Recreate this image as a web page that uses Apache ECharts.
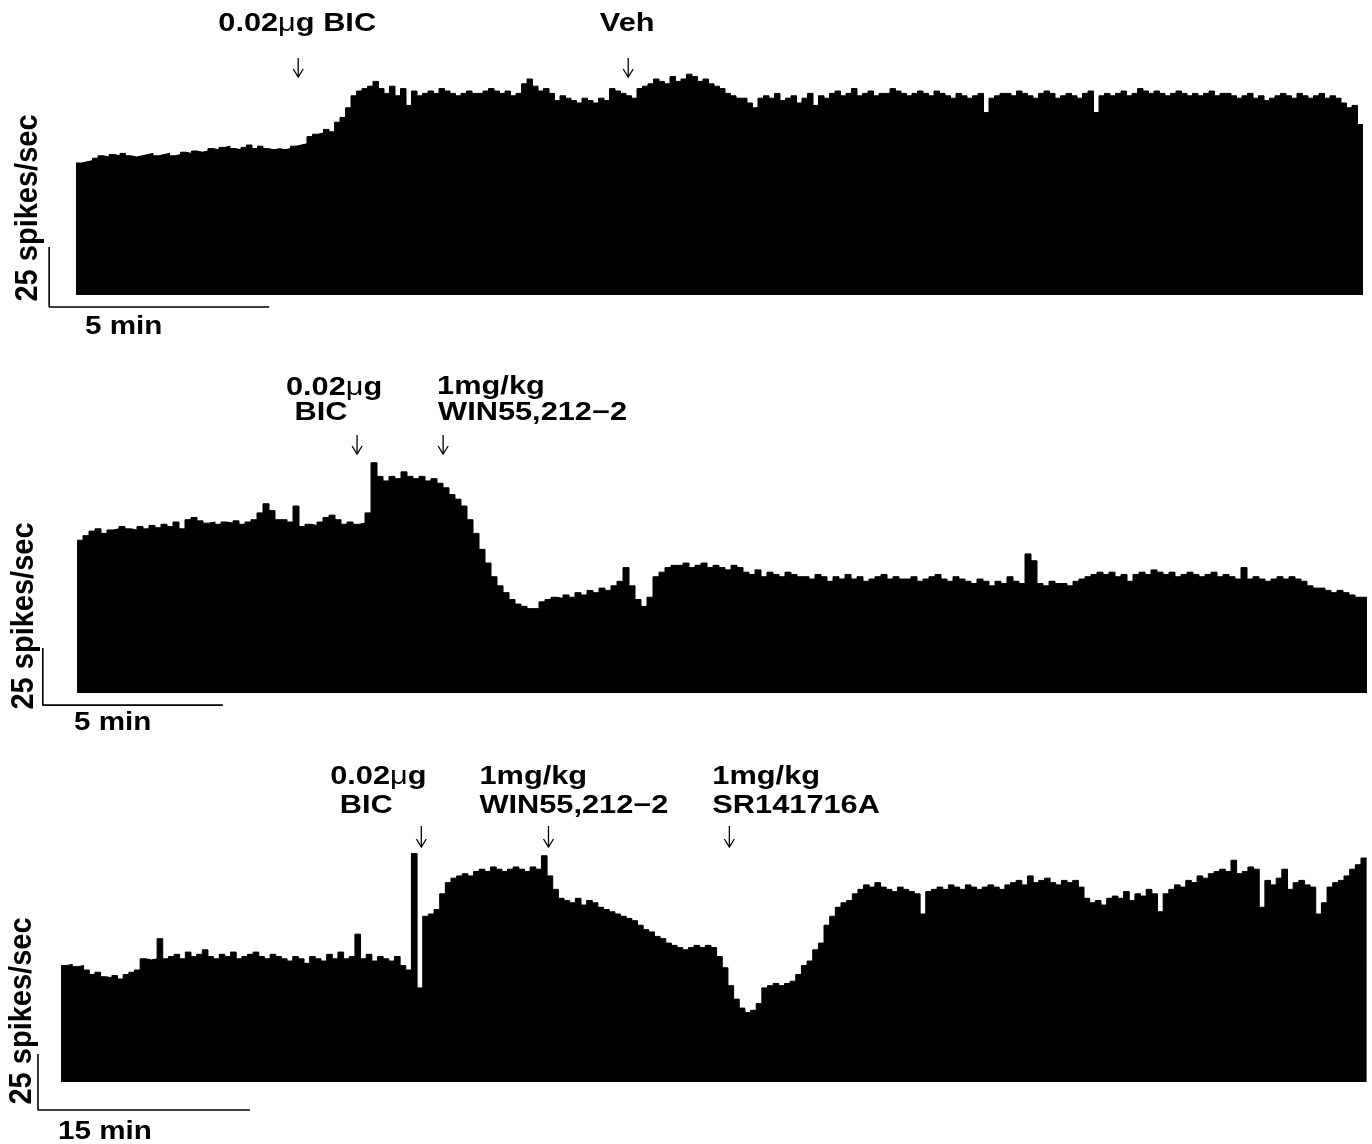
<!DOCTYPE html>
<html><head><meta charset="utf-8">
<script src="https://cdn.jsdelivr.net/npm/echarts@6.0.0/dist/echarts.min.js"></script>
<style>html,body{margin:0;padding:0;background:#fff}#c{width:1372px;height:1144px}</style>
</head><body><div id="c"></div>
<script>
// ---- data (spikes/sec per bin) ----
const binMinutes = [1/8, 1/6, 0.4];
const rate1 = [55,55.5,56, 57,58,57.5,58.5,58,59,58,57.5,58,58.5,59,58,58.5,59,58,58.5,59.5,59,60,59.5, 60,61,60.5,61.5,62,61,60.5,61.5,62.5,61,62,61,60.5,61,60.5,61,62,62.5, 63,66,67,67.5,69,68,72,74,78,83,85,86,87,89,86,84,87,83,86,79,85, 83,84,85,84,86,85,84,83,84,85,84,84,85,86,85,84,85,83,84,88,90, 87,85,86,84,81,83,82, 81,80,82,81,80,82,81,86, 85,84,83,82, 86,87,88,90,89,88,91,89,90,92,91, 89,90,88,87,86,84, 83,82,82,80,78, 82,83,82,84,81,82,83,80,82,84,79,83,82, 84,85,83,84,86,83,84,85,83,84,84,86,85,84,83,84,85,84,83,85,84,83,82,84,83,82,83,84,76,82,83,84, 84,83,85,84,83,82,84,85,84,82,83,84,83,82,84,85,76,83,84,83, 84,85,83,84,86,85,84,85,84,83,84,85,84,83,84,83,84,85,83,84,84,83, 82,83,84,82,83,81,82,83,84,83,82,84,83,82,83,84,82,83,82, 80,78,79,71];
const rate2 = [67,69, 71,72,70,71.5,72,73,72,71.5,73,72,73.5,72.5,74,73,75,72, 76,77,75.5,74.5,75,74,75,74.5,75.5,74,75,76, 79,83,80,76, 76,75,82, 73,74,73.5,75,77,78,76,74,75,74,74.5,79, 101,95,93,95,94,97,95, 94,95,93,94,92,90, 87,85,82, 76,70,63, 57,51,47, 44,41,39, 38,37,37,40, 41,42,41.5,43,42,44,43,45,44,46,45,47,49, 55,47,41, 38,42, 51,53,55,56, 56,57,55,56,57,55,56,55,54,56,55, 53,52,54,51,53,52,51,53,52,51, 51,50,52,51,49,51,50,52,50,51,49,50,51,52,50,51,50, 50,51,49,50,51,52,50,49,51,50,49,48,50,49,47,49,48,51,49,48, 61,58, 48,47,49,48,48,47,49,50,51, 52,53,52,53,51,52,49,52,53,52, 54,53,52,53,51,52,53,52,51,52,53,51,52, 51,50,55,50,51,50,49,50,51,50,51,50,49, 47,46,46,45,44, 45,44,43,42,42];
const rate3 = [52,52.5,51.5,52, 50,48,49, 47,46.5,47.5,46,48, 49,50, 55,54.5,55,64, 55,56,57,55,58,56,57,59,56,55,57,56,58,55,56,57,58,56,55,57,56, 55,54,56,55,53,56,55,54,57,55, 58,55,56,66, 55,57,54,56,55,54,56,52, 50, 102, 42, 74,75,77, 84,89, 91,92,93,92, 94,95,94,96,95,94,95,96,95,94,96,95, 101, 92,86, 82,81,80,82,79,81,80,78, 77,76,75,74,73,72,70, 68,67,65,64,62,61,60, 59,60,61,60,61,60, 56,51, 43,37, 33,31,32, 35, 42,43,44,43,44,45, 48,52,54, 59, 62, 70, 74,78,80, 81,84,86,88,87,89, 87,86,85,87,86,85,84, 75, 85,86,87,86,88,87,86,88,87,86,87,88,87,86, 88,89,90,88,92,89,90,91,89,88,90,89,90,87, 82,80,81,79,82, 83,82,85,81,84,83,86,84,76, 84,86,88,87,90,89,92,91, 93,94,95,94,99,93,94,96,95, 78,90, 88,91,95,86,89,90, 88,87, 75,80, 87,89,90, 92,95,97, 100];
// injection times (min from start of trace)
const events1 = [5.05, 12.55];
const events2 = [7.78, 10.17];
const events3 = [25.5, 34.5, 47.3];
const eventText1 = [["0.02{m|μ}g BIC"], ["Veh"]];
const eventText2 = [["0.02{m|μ}g", "BIC"], ["1mg/kg", "WIN55,212\u22122"]];
const eventText3 = [["0.02{m|μ}g", "BIC"], ["1mg/kg", "WIN55,212\u22122"], ["1mg/kg", "SR141716A"]];
// calibration bars
const scaleMinutes = [5, 5, 15];
const scaleSpikes = [25, 25, 25];
const scaleLabels = ["5 min", "5 min", "15 min"];
const yLabel = "25 spikes/sec";

// ---- layout (pixels / axis ranges) ----
const layout = [
  {left:32, width:1337.6, xmin:-1, xmax:29.4, top:7, height:312, ymin:-10, ymax:120,
   barT:-0.61, barV:-5,
   textLines:[[{dx:-1, y:24, align:'center'}], [{dx:-1, y:24, align:'center'}]],
   arrowY:[58,77], minLbl:{x:85, y:327}, yLbl:{x:28, y:208}},
  {left:23, width:1346.4, xmin:-1.5, xmax:35.9, top:373.8, height:342, ymin:-10, ymax:140,
   barT:-0.95, barV:-5.3,
   textLines:[[{dx:-23, y:388, align:'center'},{dx:-36, y:413, align:'center'}],
              [{dx:-6, y:387, align:'left'},{dx:-5, y:413, align:'left'}]],
   arrowY:[435,454], minLbl:{x:74, y:723}, yLbl:{x:24, y:616}},
  {left:32.74, width:1335.3, xmin:-2, xmax:92.5, top:746, height:380.8, ymin:-20, ymax:150,
   barT:-1.63, barV:-12.5,
   textLines:[[{dx:-43, y:777, align:'center'},{dx:-55, y:806, align:'center'}],
              [{dx:-69, y:777, align:'left'},{dx:-69, y:806, align:'left'}],
              [{dx:-17, y:777, align:'left'},{dx:-17, y:806, align:'left'}]],
   arrowY:[826,847], minLbl:{x:58, y:1132}, yLbl:{x:22, y:1011}}
];
const rates = [rate1, rate2, rate3];
const events = [events1, events2, events3];
const eventTexts = [eventText1, eventText2, eventText3];

const FONT = '"Liberation Sans", Arial, Helvetica, sans-serif';
const chart = echarts.init(document.getElementById('c'), null, {renderer:'canvas'});

const grid = [], xAxis = [], yAxis = [], series = [];
layout.forEach((L, k) => {
  grid.push({left:L.left, top:L.top, width:L.width, height:L.height, outerBoundsMode:'none', containLabel:false});
  xAxis.push({type:'value', gridIndex:k, min:L.xmin, max:L.xmax, show:false});
  yAxis.push({type:'value', gridIndex:k, min:L.ymin, max:L.ymax, show:false});
  const r = rates[k], dt = binMinutes[k];
  const pts = r.map((v, i) => [i * dt, v]);
  pts.push([r.length * dt, r[r.length - 1]]);
  series.push({type:'line', xAxisIndex:k, yAxisIndex:k, data:pts, step:'end', symbol:'none',
    lineStyle:{color:'#000', width:1}, areaStyle:{color:'#000', opacity:1, origin:'auto'}, silent:true, z:2});
  series.push({type:'line', xAxisIndex:k, yAxisIndex:k, symbol:'none', silent:true, clip:false,
    data:[[L.barT, L.barV + scaleSpikes[k]], [L.barT, L.barV], [L.barT + scaleMinutes[k], L.barV]],
    lineStyle:{color:'#000', width:1.6}, z:3});
});

chart.setOption({animation:false, backgroundColor:'#fff', grid, xAxis, yAxis, series});

const graphics = [];
layout.forEach((L, k) => {
  events[k].forEach((t, j) => {
    const px = chart.convertToPixel({gridIndex:k}, [t, 0])[0];
    const y0 = L.arrowY[0], y1 = L.arrowY[1];
    graphics.push({type:'line', shape:{x1:px, y1:y0, x2:px, y2:y1}, style:{stroke:'#000', lineWidth:1.3}, silent:true});
    graphics.push({type:'polyline', shape:{points:[[px-5, y1-8],[px, y1],[px+5, y1-8]]}, style:{stroke:'#000', lineWidth:1.3, fill:null}, silent:true});
    eventTexts[k][j].forEach((txt, m) => {
      const tl = L.textLines[j][m];
      graphics.push({type:'text', x:px + tl.dx, y:tl.y, scaleX:1.23, silent:true,
        style:{text:txt, fill:'#000', font:'bold 25px ' + FONT, textAlign:tl.align, textVerticalAlign:'middle',
          rich:{m:{fontWeight:'normal', fontSize:25, fontFamily:FONT, fill:'#000'}}}});
    });
  });
  graphics.push({type:'text', x:L.minLbl.x, y:L.minLbl.y, scaleX:1.14, silent:true,
    style:{text:scaleLabels[k], fill:'#000', font:'bold 26px ' + FONT, textAlign:'left', textVerticalAlign:'middle'}});
  graphics.push({type:'text', x:L.yLbl.x, y:L.yLbl.y, rotation:Math.PI/2, scaleY:1.1, silent:true,
    style:{text:yLabel, fill:'#000', font:'bold 29px ' + FONT, textAlign:'center', textVerticalAlign:'middle'}});
});
chart.setOption({graphic:graphics});
</script>
</body></html>
